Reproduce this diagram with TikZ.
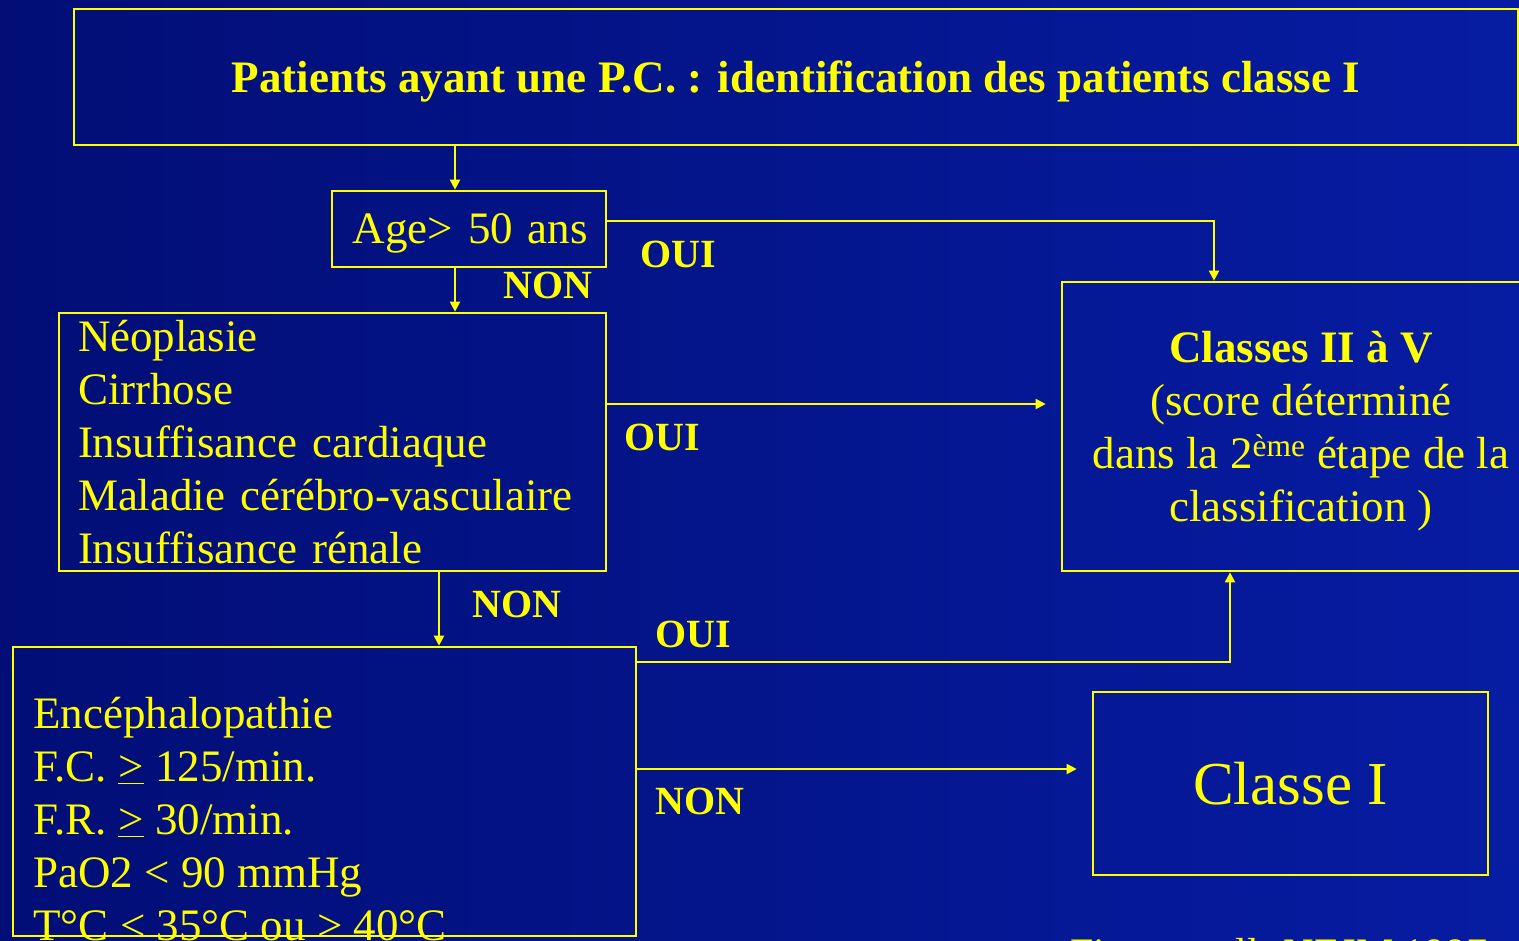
\documentclass[tikz,border=0pt]{standalone}
\usepackage{fontspec}
\setmainfont{Liberation Serif}
\usepackage{tikz}
\usetikzlibrary{arrows.meta,calc}
\definecolor{slidebgL}{RGB}{2,14,118}
\definecolor{slidebgR}{RGB}{6,28,162}
\definecolor{slideyellow}{RGB}{255,255,0}

\begin{document}
\begin{tikzpicture}[x=0.75pt,y=0.75pt,yscale=-1,xscale=1,
  box/.style={draw=slideyellow, line width=2pt, inner sep=0pt},
  conn/.style={draw=slideyellow, line width=1.5pt, -{Triangle[length=7.5pt,width=7.5pt]}},
  plain/.style={text=slideyellow, font=\fontsize{33.75}{39.75}\selectfont},
  answer/.style={text=slideyellow, inner sep=0pt, font=\bfseries\fontsize{30}{36}\selectfont}]
%set diagram left start at 0, and has height of 940
\path[use as bounding box, left color=slidebgL, right color=slidebgR] (0,0) rectangle (1519,940);
\clip (0,0) rectangle (1519,940);

%Shape: Rectangle [title]
\node[box, plain, text depth=0pt, font=\bfseries\fontsize{33.75}{39.75}\selectfont, minimum width=1083pt, minimum height=102pt] (title) at (796,77) {Patients ayant une P.C. : identification des patients classe I};
%Shape: Rectangle [age]
\node[box, plain, text depth=0pt, align=right, text width=178.5pt, inner xsep=13.5pt, minimum width=205.5pt, minimum height=57pt] (age) at (469,229) {Age> 50 ans};
%Shape: Rectangle [risk]
\node[box, plain, align=left, text width=381.75pt, inner xsep=14.25pt, minimum width=410.25pt, minimum height=193.5pt] (risk) at (332.5,442) {Néoplasie\\Cirrhose\\Insuffisance cardiaque\\Maladie cérébro-vasculaire\\Insuffisance rénale};
%Shape: Rectangle [classes]
\node[box, plain, text depth=0pt, align=center, minimum width=358.5pt, minimum height=216.75pt] (classes) at (1301,426.5) {\textbf{Classes II à V}\\(score déterminé\\dans la 2\textsuperscript{ème} étape de la\\classification )};
%Shape: Rectangle [signs]
\node[box, minimum width=467.25pt, minimum height=216.75pt] (signs) at (324.5,791.5) {};
%Shape: Rectangle [classI]
\node[box, text=slideyellow, text depth=0pt, font=\fontsize{45.75}{54}\selectfont, minimum width=296.25pt, minimum height=137.25pt] (classI) at (1290.5,783.5) {Classe I};

% Text Node
\node[plain, align=left, anchor=north west, inner sep=0pt] (signstxt) at (33,697) {Encéphalopathie\\F.C. \underline{>} 125/min.\\F.R. \underline{>} 30/min.\\PaO2 < 90 mmHg\\T°C < 35°C ou \underline{>} 40°C};
% Text Node
\node[plain, font=\fontsize{31.5}{36}\selectfont, anchor=base west, inner sep=0pt] (cite) at (1070,967) {Fine et coll. NEJM 1997};

% Text Node
\node[answer] (yes1) at (678,254) {OUI};
% Text Node
\node[answer] (no1) at (548,285) {NON};
% Text Node
\node[answer] (yes2) at (662,437) {OUI};
% Text Node
\node[answer] (no2) at (517,604) {NON};
% Text Node
\node[answer] (yes3) at (693,634) {OUI};
% Text Node
\node[answer] (no3) at (700,801) {NON};

%Straight Lines [title -> age]
\coordinate (ageIn) at ($(age.north)+(-14,0)$);
\draw[conn] (ageIn |- title.south) -- (ageIn);
%Straight Lines [age -> risk]
\coordinate (ageOut) at ($(age.south)+(-14,0)$);
\draw[conn] (ageOut) -- (ageOut |- risk.north);
%Straight Lines [age -> classes]
\coordinate (ageYes) at ($(age.east)+(0,-8)$);
\coordinate (classesIn) at ($(classes.north)+(-87,0)$);
\draw[conn] (ageYes) -| (classesIn);
%Straight Lines [risk -> classes]
\coordinate (riskYes) at ($(risk.east)+(0,-38)$);
\draw[conn, shorten >=11.25pt] (riskYes) -- (riskYes -| classes.west);
%Straight Lines [risk -> signs]
\coordinate (riskNo) at ($(risk.south)+(106.5,0)$);
\draw[conn] (riskNo) -- (riskNo |- signs.north);
%Straight Lines [signs -> classes]
\coordinate (signsYes) at ($(signs.east)+(0,-129.5)$);
\coordinate (classesUp) at ($(classes.south)+(-71,0)$);
\draw[conn] (signsYes) -| (classesUp);
%Straight Lines [signs -> classI]
\coordinate (signsNo) at ($(signs.east)+(0,-22.5)$);
\draw[conn, shorten >=11.25pt] (signsNo) -- (signsNo -| classI.west);

\end{tikzpicture}
\end{document}
